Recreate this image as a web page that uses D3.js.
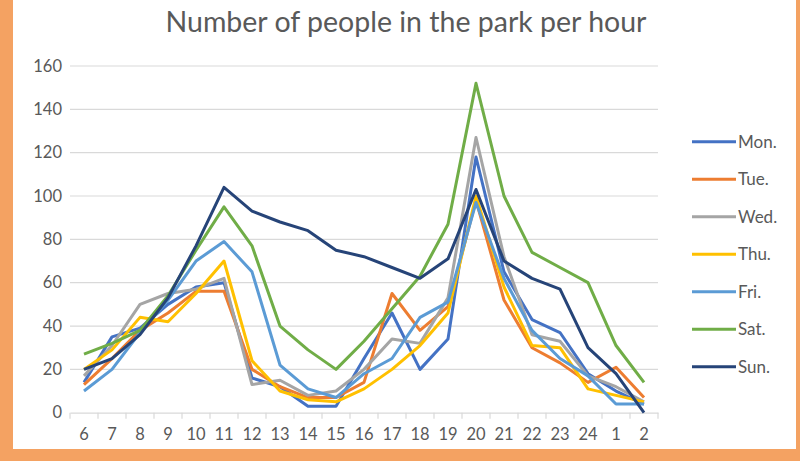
<!DOCTYPE html>
<html><head><meta charset="utf-8">
<script src="https://cdn.jsdelivr.net/npm/d3@7"></script>
<style>body{margin:0;background:#fff}svg{display:block}</style>
</head><body>
<script>
const hours = ["6","7","8","9","10","11","12","13","14","15","16","17","18","19","20","21","22","23","24","1","2"];
const seriesNames = ["Mon.","Tue.","Wed.","Thu.","Fri.","Sat.","Sun."];
const mon = [14,35,39,50,58,60,16,12,3,3,25,46,20,34,118,65,43,37,18,10,4];
const tue = [13,25,38,46,56,56,20,12,7,7,14,55,38,49,98,52,30,23,14,21,7];
const wed = [17,31,50,55,57,62,13,15,8,10,20,34,32,53,127,72,36,33,17,12,5];
const thu = [20,29,44,42,55,70,24,10,6,5,11,20,31,46,100,58,31,30,11,8,5];
const fri = [10,20,37,52,70,79,65,22,11,7,18,25,44,51,97,62,38,25,17,4,4];
const sat = [27,32,38,54,75,95,77,40,29,20,33,48,63,87,152,100,74,67,60,31,14];
const sun = [20,25,36,53,77,104,93,88,84,75,72,67,62,71,103,70,62,57,30,18,0];
const yTicks = [0,20,40,60,80,100,120,140,160];
const colors = ["#4472C4","#ED7D31","#A5A5A5","#FFC000","#5B9BD5","#70AD47","#264478"];
const values = [mon,tue,wed,thu,fri,sat,sun];

const W=800,H=461;
const svg=d3.select("body").append("svg").attr("width",W).attr("height",H);
const font="Lato, 'Open Sans', sans-serif";
// frame
svg.append("rect").attr("x",0).attr("y",0).attr("width",W).attr("height",H).attr("fill","#F4A262");
svg.append("rect").attr("x",13).attr("y",0).attr("width",783).attr("height",449).attr("fill","#fff");

const x=d3.scaleBand().domain(hours).range([70,658]);
const y=d3.scaleLinear().domain([0,160]).range([412.7,66]);

svg.append("text").attr("x",406).attr("y",32).attr("text-anchor","middle")
  .attr("font-family",font).attr("font-size",28.5).attr("fill","#595959")
  .text("Number of people in the park per hour");

// grid
svg.append("g").selectAll("line").data(yTicks.filter(d=>d>0)).join("line")
  .attr("x1",70).attr("x2",658).attr("y1",d=>y(d)).attr("y2",d=>y(d))
  .attr("stroke","#d9d9d9").attr("stroke-width",1.2);

const yAxis=svg.append("g").attr("transform","translate(70,0)")
  .call(d3.axisLeft(y).tickValues(yTicks).tickSize(0).tickPadding(8));
yAxis.select(".domain").remove();
yAxis.selectAll("text").attr("font-family",font).attr("font-size",16.5).attr("fill","#595959");

const xAxis=svg.append("g").attr("transform",`translate(0,${y(0)})`)
  .call(d3.axisBottom(x).tickSize(0).tickPadding(16));
xAxis.select(".domain").attr("stroke","#d9d9d9").attr("stroke-width",1.2);
xAxis.selectAll("text").attr("font-family",font).attr("font-size",16.5).attr("fill","#595959");
// tick marks at band boundaries
svg.append("g").selectAll("line").data(hours.concat(["end"])).join("line")
  .attr("x1",(d,i)=>70+i*x.step()).attr("x2",(d,i)=>70+i*x.step())
  .attr("y1",y(0)).attr("y2",y(0)+6).attr("stroke","#d9d9d9").attr("stroke-width",1.2);

const line=d3.line().x((d,i)=>x(hours[i])+x.bandwidth()/2).y(d=>y(d));
svg.append("g").selectAll("path").data(values).join("path")
  .attr("d",d=>line(d)).attr("fill","none")
  .attr("stroke",(d,i)=>colors[i]).attr("stroke-width",3).attr("stroke-linejoin","round");

// legend
const lg=svg.append("g").selectAll("g").data(seriesNames).join("g")
  .attr("transform",(d,i)=>`translate(692,${141.7+i*37.5})`);
lg.append("line").attr("x1",0).attr("x2",44).attr("stroke",(d,i)=>colors[i]).attr("stroke-width",3);
lg.append("text").attr("x",46).attr("dy","0.35em").attr("font-family",font).attr("font-size",17)
  .attr("fill","#595959").text(d=>d);
</script>
</body></html>
